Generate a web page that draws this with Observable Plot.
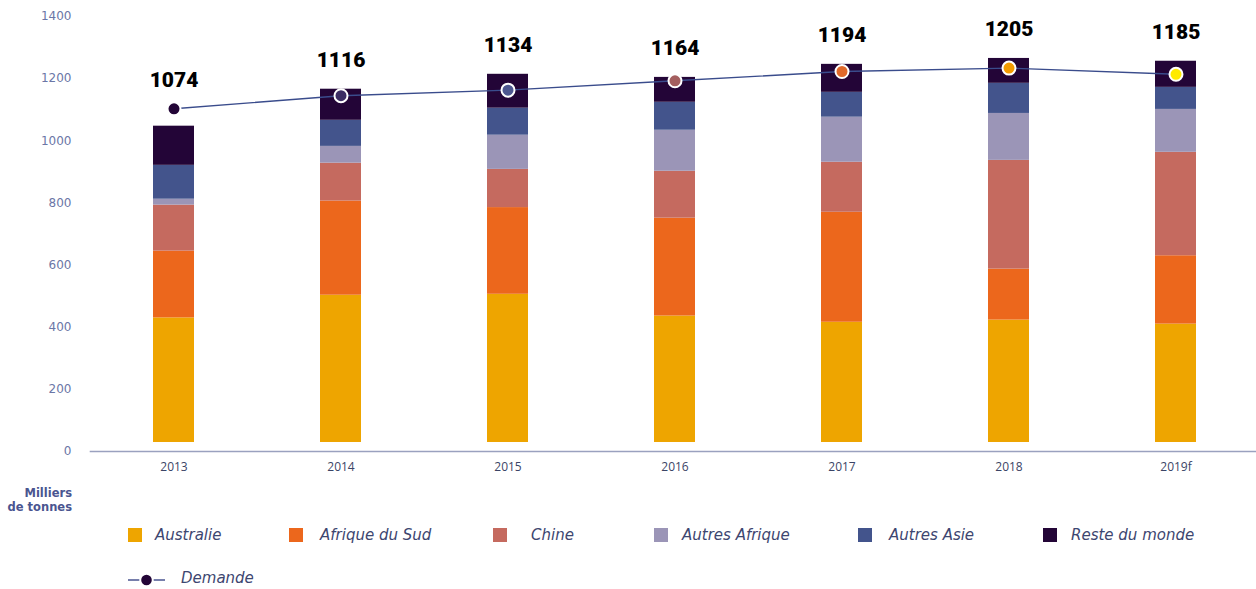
<!DOCTYPE html>
<html><head><meta charset="utf-8">
<script src="https://cdn.jsdelivr.net/npm/d3@7"></script>
<script src="https://cdn.jsdelivr.net/npm/@observablehq/plot@0.6"></script>
<style>
body{margin:0;background:#fff;}
#wrap{position:relative;width:1256px;height:589px;overflow:hidden;font-family:"DejaVu Sans",sans-serif;}
#chart svg{display:block;}
#unit{position:absolute;left:0;top:486px;width:72px;text-align:right;font-weight:bold;font-size:11.5px;line-height:14px;color:#4a5590;}
.sw{position:absolute;width:14px;height:14px;}
.lt{position:absolute;font-style:italic;font-size:15px;color:#3d4670;white-space:nowrap;line-height:20px;}
</style></head><body>
<div id="wrap"><div id="chart"></div><div id="unit">Milliers<br>de tonnes</div></div>
<script>
const years = ["2013","2014","2015","2016","2017","2018","2019f"];
const regions = ["Australie","Afrique du Sud","Chine","Autres Afrique","Autres Asie","Reste du monde"];
const australie     = [401,474,477,407,387,394,381];
const afriqueDuSud  = [215,303,279,315,354,164,220];
const chine         = [148,122,123,151,161,350,333];
const autresAfrique = [19,54,110,132,145,151,138];
const autresAsie    = [109,84,87,90,80,97,71];
const resteDuMonde  = [126,100,109,80,90,80,84];
const demande       = [1074,1116,1134,1164,1194,1205,1185];
const yTicks = [0,200,400,600,800,1000,1200,1400];
const demandeLabel = "Demande";

const regionColors = ["#EEA500","#EC671C","#C56A5F","#9B95B7","#43548C","#230537"];
const dotColors = ["#230537","#3b2d63","#4d5790","#a45f5f","#e0692a","#f39c00","#ffea00"];
const axisOffset = 29;

const series = [australie, afriqueDuSud, chine, autresAfrique, autresAsie, resteDuMonde];
const rows = [];
years.forEach((yr, i) => series.forEach((s, j) => rows.push({year: yr, region: regions[j], value: s[i], color: regionColors[j]})));
const demRows = years.map((yr, i) => ({
  year: yr, demande: demande[i], color: dotColors[i],
  total: series.reduce((a, s) => a + s[i], 0)
}));

const plot = Plot.plot({
  width: 1256, height: 480,
  marginLeft: 90, marginRight: 0, marginTop: 16, marginBottom: 29,
  style: {fontFamily: "DejaVu Sans, sans-serif", fontSize: "12px", background: "#fff"},
  x: {domain: years, paddingInner: 0.755, paddingOuter: 0.35, align: 0.51},
  y: {domain: [0, 1400], transform: v => v + axisOffset},
  color: {type: "identity"},
  marks: [
    Plot.axisY({ticks: yTicks, tickFormat: d => String(d), tickSize: 0, tickPadding: 19, fill: "#6b76a6", fontSize: 12, label: null}),
    Plot.axisX({tickSize: 0, tickPadding: 11, fill: "#3b4466", fontSize: 12, fontFamily: "Open Sans", label: null}),
    Plot.frame({anchor: "bottom", stroke: "#9aa1bf", strokeWidth: 1.6}),
    Plot.barY(rows, {x: "year", y: "value", fill: "color", z: "region"}),
    Plot.line(demRows, {x: "year", y: "demande", stroke: "#3a4c8c", strokeWidth: 1.4}),
    Plot.dot(demRows, {x: "year", y: "demande", r: 6.5, fill: "color", stroke: "#fff", strokeWidth: 2}),
    Plot.text(demRows, {x: "year", y: d => Math.max(d.total, d.demande), dy: -29,
      text: d => String(d.demande), fontSize: 21, fontWeight: 900, fontFamily: "Roboto", fill: "#000"})
  ]
});
document.getElementById("chart").appendChild(plot);

// Legend
const wrap = document.getElementById("wrap");
const swatchX = [128, 289, 493, 654, 858, 1043];
const textX   = [155, 320, 531, 682, 889, 1071];
regions.forEach((r, j) => {
  const sw = document.createElement("div");
  sw.className = "sw";
  sw.style.left = swatchX[j] + "px"; sw.style.top = "528px"; sw.style.background = regionColors[j];
  wrap.appendChild(sw);
  const t = document.createElement("div");
  t.className = "lt"; t.textContent = r;
  t.style.left = textX[j] + "px"; t.style.top = "525px";
  wrap.appendChild(t);
});
const ns = "http://www.w3.org/2000/svg";
const m = document.createElementNS(ns, "svg");
m.setAttribute("width", 40); m.setAttribute("height", 16);
m.style.position = "absolute"; m.style.left = "127px"; m.style.top = "572px";
m.innerHTML = '<line x1="1" x2="38" y1="8" y2="8" stroke="#4a5590" stroke-width="1.5"/><circle cx="19.5" cy="8" r="6.3" fill="#230537" stroke="#fff" stroke-width="2"/>';
wrap.appendChild(m);
const dt = document.createElement("div");
dt.className = "lt"; dt.textContent = demandeLabel;
dt.style.left = "181px"; dt.style.top = "568px";
wrap.appendChild(dt);
</script>
</body></html>
